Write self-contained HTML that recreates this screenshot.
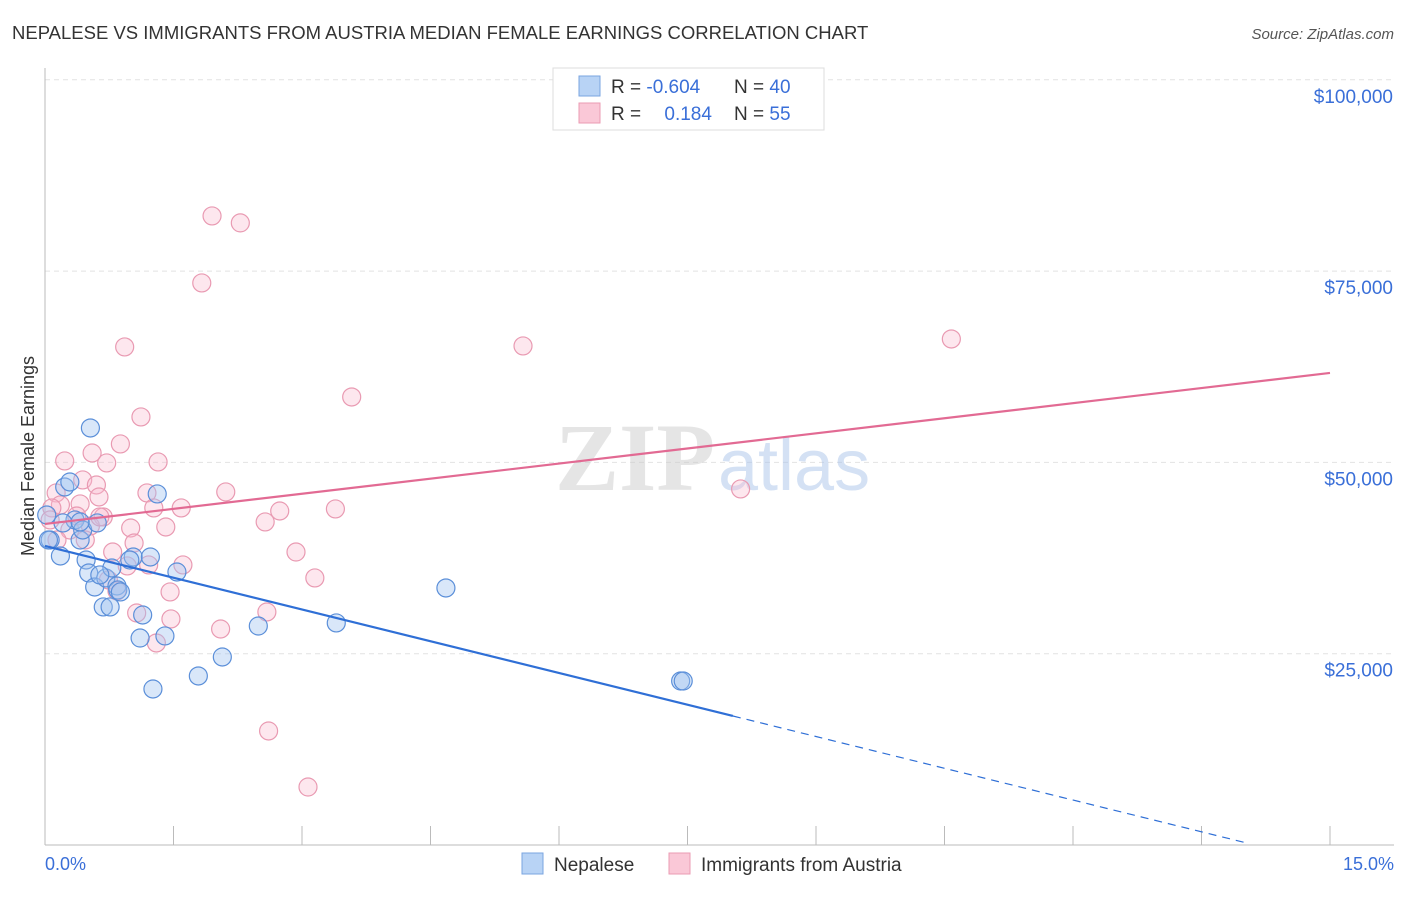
<!DOCTYPE html>
<html><head><meta charset="utf-8"><style>
body{margin:0;background:#fff;font-family:"Liberation Sans",sans-serif;overflow:hidden}
</style></head><body>
<svg width="1406" height="892" xmlns="http://www.w3.org/2000/svg" font-family="Liberation Sans, sans-serif">
<text x="12" y="39" font-size="18.5" fill="#333">NEPALESE VS IMMIGRANTS FROM AUSTRIA MEDIAN FEMALE EARNINGS CORRELATION CHART</text>
<text x="1394" y="39" font-size="15" fill="#555" font-style="italic" text-anchor="end">Source: ZipAtlas.com</text>
<g id="grid"></g>
<line x1="45" y1="68" x2="45" y2="845" stroke="#bbb"/>
<line x1="45" y1="845" x2="1394" y2="845" stroke="#bbb"/>
<g id="xticks"></g>
<g id="ylabels"></g>
<text x="45" y="870" font-size="18" fill="#3a6fd8">0.0%</text>
<text x="1394" y="870" font-size="18" fill="#3a6fd8" text-anchor="end">15.0%</text>
<text transform="translate(34,456) rotate(-90)" font-size="18" fill="#333" text-anchor="middle">Median Female Earnings</text>
<g opacity="0.5">
<text x="555" y="490" font-size="96" fill="#ccc" font-family="Liberation Serif, serif" font-weight="bold">ZIP</text>
<text x="718" y="490" font-size="72" fill="#aac4ea">atlas</text>
</g>
<g id="pinkpts"></g>
<g id="bluepts"></g>
<g id="trends"></g>
<g>
<rect x="553" y="68" width="271" height="62" fill="#fff" stroke="#ddd"/>
<rect x="579" y="76" width="21" height="20" fill="#b8d3f5" stroke="#7aa5e0"/>
<rect x="579" y="103" width="21" height="20" fill="#fac8d7" stroke="#eb9bb3"/>
<text x="611" y="93" font-size="19" fill="#333">R = <tspan fill="#3a6fd8">-0.604</tspan></text>
<text x="734" y="93" font-size="19" fill="#333">N = <tspan fill="#3a6fd8">40</tspan></text>
<text x="611" y="120" font-size="19" fill="#333">R = <tspan fill="#3a6fd8" dx="18">0.184</tspan></text>
<text x="734" y="120" font-size="19" fill="#333">N = <tspan fill="#3a6fd8">55</tspan></text>
</g>
<g>
<rect x="522" y="853" width="21" height="21" fill="#b8d3f5" stroke="#7aa5e0"/>
<text x="554" y="871" font-size="19" fill="#333">Nepalese</text>
<rect x="669" y="853" width="21" height="21" fill="#fac8d7" stroke="#eb9bb3"/>
<text x="701" y="871" font-size="19" fill="#333">Immigrants from Austria</text>
</g>
</svg>
<script>
const blueX=[0.02,0.06,0.18,0.23,0.29,0.35,0.41,0.44,0.53,0.48,0.51,0.58,0.61,0.68,0.71,0.76,0.78,0.84,0.85,1.03,1.11,1.14,1.23,1.26,1.31,1.40,1.54,1.79,2.07,2.49,3.40,4.68,7.42,7.45,0.04,0.21,0.64,0.88,0.99,0.41];
const blueY=[43130,39860,37770,46790,47440,42480,39860,41170,54500,37250,35550,33720,42090,31110,34900,31110,36200,33850,33330,37640,27050,30060,37640,20390,45880,27320,35680,22090,24570,28620,29020,33590,21430,21430,39860,42090,35290,33070,37250,42220];
const pinkX=[1.95,2.28,1.83,0.93,5.58,10.58,3.58,1.12,0.88,0.23,0.55,0.72,1.32,0.44,0.60,0.13,1.19,2.11,1.59,1.27,0.41,0.63,3.39,2.74,0.18,0.08,0.37,0.68,2.57,1.41,1.00,0.53,0.29,8.12,0.14,0.79,1.04,1.61,2.93,0.96,1.21,3.15,0.74,0.84,1.46,2.59,1.07,1.47,1.30,2.05,2.61,3.07,0.06,0.47,0.64];
const pinkY=[82210,81300,73450,65090,65220,66130,58550,55940,52410,50190,51230,49930,50060,47710,47050,46010,46010,46140,44050,44050,44570,45480,43920,43650,44440,44050,43000,42870,42220,41560,41430,41690,41170,46530,39860,38290,39470,36600,38290,36470,36600,34900,34640,33200,33070,30450,30320,29540,26400,28230,14900,7580,42480,39860,42870];
const yTicks=[25000,50000,75000,100000];
const yTickLabels=["$25,000","$50,000","$75,000","$100,000"];
const xTicks=[0,1.5,3,4.5,6,7.5,9,10.5,12,13.5,15];
const blueTrend=[0,39080,8.03,16860];
const blueDashEnd=14.0;
const pinkTrend=[0,41955,15,61690];
const NS="http://www.w3.org/2000/svg";
const sx=v=>45+v/15*1285, sy=v=>845-v/25000*191.3;
function mk(t,a,p){const e=document.createElementNS(NS,t);for(const k in a)e.setAttribute(k,a[k]);p.appendChild(e);return e;}
const grid=document.getElementById('grid'),yl=document.getElementById('ylabels'),xt=document.getElementById('xticks');
yTicks.forEach((v,i)=>{
 const l=mk('line',{x1:45,x2:1394,y1:sy(v),y2:sy(v),stroke:'#e2e2e2','stroke-dasharray':'5,4'},grid);
 
 
 const t=mk('text',{x:1393,y:sy(v)+23,'font-size':19,fill:'#3a6fd8','text-anchor':'end'},yl);
 t.textContent=yTickLabels[i];
 
 
});
xTicks.forEach(v=>{
 const l=mk('line',{x1:sx(v),x2:sx(v),y1:826,y2:845,stroke:'#bbb'},xt);
 
 
});
const bp=document.getElementById('bluepts'),pp=document.getElementById('pinkpts');
pinkX.forEach((x,i)=>{
 const c=mk('circle',{cx:sx(x),cy:sy(pinkY[i]),r:9,fill:'rgba(248,185,205,0.35)',stroke:'#e99ab2','stroke-width':1.2},pp);
 
 
});
blueX.forEach((x,i)=>{
 const c=mk('circle',{cx:sx(x),cy:sy(blueY[i]),r:9,fill:'rgba(160,195,240,0.4)',stroke:'#5b8fd9','stroke-width':1.2},bp);
 
 
});
const tr=document.getElementById('trends');
const slope=(blueTrend[3]-blueTrend[1])/(blueTrend[2]-blueTrend[0]);
const b1=mk('line',{x1:sx(blueTrend[0]),y1:sy(blueTrend[1]),x2:sx(blueTrend[2]),y2:sy(blueTrend[3]),stroke:'#2f6fd6','stroke-width':2.2},tr);


const b2=mk('line',{x1:sx(blueTrend[2]),y1:sy(blueTrend[3]),x2:sx(blueDashEnd),y2:sy(blueTrend[1]+slope*blueDashEnd),stroke:'#2f6fd6','stroke-width':1.2,'stroke-dasharray':'8,6'},tr);


const p1=mk('line',{x1:sx(pinkTrend[0]),y1:sy(pinkTrend[1]),x2:sx(pinkTrend[2]),y2:sy(pinkTrend[3]),stroke:'#e26a93','stroke-width':2.2},tr);


</script>
</body></html>
